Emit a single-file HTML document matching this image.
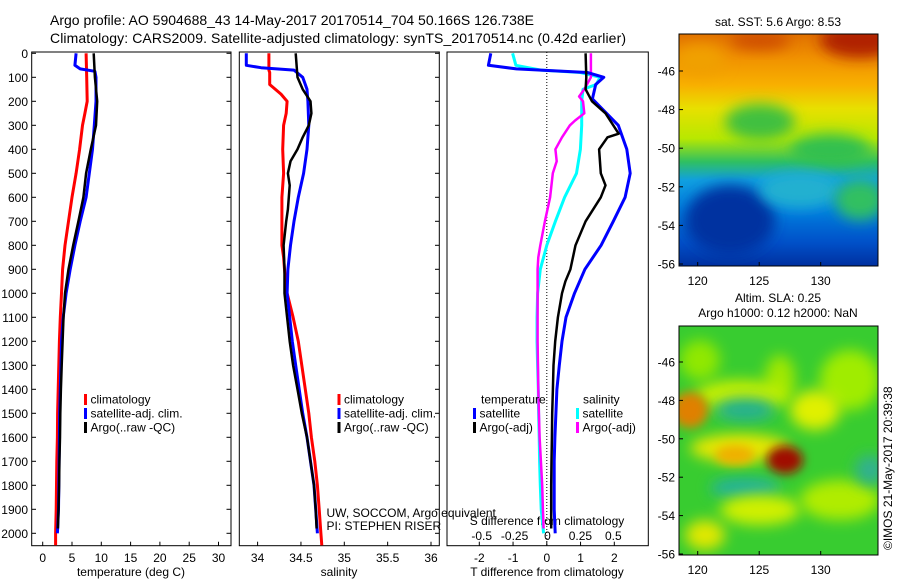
<!DOCTYPE html>
<html><head><meta charset="utf-8">
<style>
html,body{margin:0;padding:0;background:#fff;}
svg{display:block;font-family:"Liberation Sans",sans-serif;}
</style></head>
<body>
<svg id="chart" width="900" height="580" viewBox="0 0 900 580" xmlns="http://www.w3.org/2000/svg">
<defs>
<clipPath id="c1"><rect x="32" y="52" width="199" height="494"/></clipPath>
<clipPath id="c2"><rect x="239" y="52" width="200" height="494"/></clipPath>
<clipPath id="c3"><rect x="447" y="52" width="201" height="494"/></clipPath>
<clipPath id="cm1"><rect x="679" y="34" width="199" height="232"/></clipPath>
<clipPath id="cm2"><rect x="679" y="326" width="199" height="229"/></clipPath>
<filter id="bl" x="-50%" y="-50%" width="200%" height="200%"><feGaussianBlur stdDeviation="7"/></filter>
<filter id="bl2" x="-50%" y="-50%" width="200%" height="200%"><feGaussianBlur stdDeviation="5"/></filter>
<linearGradient id="sstg" x1="0" y1="0" x2="0" y2="1">
<stop offset="0" stop-color="#e07000"/><stop offset="0.1" stop-color="#f09000"/>
<stop offset="0.22" stop-color="#f8b000"/><stop offset="0.32" stop-color="#e8e000"/>
<stop offset="0.45" stop-color="#b8e800"/><stop offset="0.55" stop-color="#30c060"/>
<stop offset="0.63" stop-color="#10a0e0"/><stop offset="0.75" stop-color="#0080e0"/>
<stop offset="0.9" stop-color="#0050c8"/><stop offset="1" stop-color="#0030a0"/>
</linearGradient>
</defs>
<g id="titles">
<text x="50" y="25" font-size="14" textLength="484">Argo profile: AO 5904688_43 14-May-2017 20170514_704 50.166S 126.738E</text>
<text x="50" y="43" font-size="14" textLength="576">Climatology: CARS2009. Satellite-adjusted climatology: synTS_20170514.nc (0.42d earlier)</text>
</g>
<g id="maps">
<text x="778" y="26" font-size="12" text-anchor="middle">sat. SST: 5.6 Argo: 8.53</text>
<g clip-path="url(#cm1)">
<rect x="679" y="34" width="199" height="232" fill="url(#sstg)"/>
<ellipse cx="860" cy="40" rx="40" ry="18" fill="#b02000" filter="url(#bl)"/>
<ellipse cx="760" cy="40" rx="30" ry="10" fill="#d05000" filter="url(#bl)"/>
<ellipse cx="760" cy="122" rx="35" ry="18" fill="#40c040" filter="url(#bl)"/>
<ellipse cx="830" cy="150" rx="40" ry="16" fill="#30c050" filter="url(#bl)"/>
<ellipse cx="730" cy="220" rx="45" ry="35" fill="#0030a0" filter="url(#bl)"/>
<ellipse cx="800" cy="190" rx="40" ry="18" fill="#20b0d0" filter="url(#bl)"/>
<ellipse cx="860" cy="200" rx="25" ry="20" fill="#30c060" filter="url(#bl)"/>
<ellipse cx="700" cy="60" rx="25" ry="15" fill="#f0a000" filter="url(#bl)"/>
</g>
<rect x="679" y="34" width="199" height="232" fill="none" stroke="#000" stroke-width="1"/>
<g id="sstaxis" font-size="12"></g>
<text x="778" y="302" font-size="12" text-anchor="middle">Altim. SLA: 0.25</text>
<text x="778" y="317" font-size="12" text-anchor="middle">Argo h1000: 0.12 h2000: NaN</text>
<g clip-path="url(#cm2)">
<rect x="679" y="326" width="199" height="229" fill="#38cc30"/>
<ellipse cx="700" cy="360" rx="20" ry="20" fill="#90e800" filter="url(#bl)"/>
<ellipse cx="850" cy="380" rx="30" ry="30" fill="#a0ec00" filter="url(#bl)"/>
<ellipse cx="780" cy="380" rx="15" ry="25" fill="#a0e800" filter="url(#bl)"/>
<ellipse cx="740" cy="395" rx="45" ry="15" fill="#c8f000" filter="url(#bl)"/>
<ellipse cx="815" cy="410" rx="25" ry="20" fill="#e0f000" filter="url(#bl)"/>
<ellipse cx="745" cy="410" rx="30" ry="12" fill="#20b090" filter="url(#bl)"/>
<ellipse cx="740" cy="448" rx="50" ry="14" fill="#e8e800" filter="url(#bl)"/>
<ellipse cx="690" cy="410" rx="18" ry="18" fill="#e08000" filter="url(#bl2)"/>
<ellipse cx="735" cy="455" rx="20" ry="10" fill="#f0b000" filter="url(#bl2)"/>
<ellipse cx="785" cy="460" rx="18" ry="14" fill="#a01000" filter="url(#bl2)"/>
<ellipse cx="745" cy="488" rx="35" ry="10" fill="#20b0a0" filter="url(#bl)"/>
<ellipse cx="760" cy="510" rx="40" ry="15" fill="#d0f000" filter="url(#bl)"/>
<ellipse cx="840" cy="500" rx="40" ry="20" fill="#b0ec00" filter="url(#bl)"/>
<ellipse cx="705" cy="535" rx="20" ry="15" fill="#e0e800" filter="url(#bl)"/>
<ellipse cx="870" cy="470" rx="15" ry="15" fill="#30b090" filter="url(#bl)"/>
</g>
<rect x="679" y="326" width="199" height="229" fill="none" stroke="#000" stroke-width="1"/>
<g id="slaaxis" font-size="12"></g>
<text transform="translate(892,550) rotate(-90)" font-size="12">©IMOS 21-May-2017 20:39:38</text>
</g>
<g id="plots"></g>
</svg>
<script>
// ---- data ----
const depthTicks = [0,100,200,300,400,500,600,700,800,900,1000,1100,1200,1300,1400,1500,1600,1700,1800,1900,2000];
const tempTicks = [0,5,10,15,20,25,30];
const salTicks = [34,34.5,35,35.5,36];
const salTickLabels = ["34","34.5","35","35.5","36"];
const tdiffTicks = [-2,-1,0,1,2];
const sdiffTicks = [-0.5,-0.25,0,0.25,0.5];
const sdiffTickLabels = ["-0.5","-0.25","0","0.25","0.5"];
const latTicks = [-46,-48,-50,-52,-54,-56];
const lonTicks = [120,125,130];

const climDepth = [0,100,200,250,300,400,500,600,700,800,900,1000,1100,1200,1300,1400,1500,1600,1700,1800,1900,2000,2050];
const climTemp = [7.4,7.5,7.6,7.2,6.8,6.3,5.7,5.0,4.4,3.8,3.4,3.2,3.0,2.85,2.75,2.65,2.55,2.5,2.4,2.35,2.3,2.2,2.2];
const satDepth = [0,50,65,75,100,200,300,400,500,600,700,800,900,1000,1100,1200,1300,1400,1500,1600,1700,1800,1900,2000];
const satTemp = [5.7,5.5,6.4,8.9,9.1,9.1,8.8,8.5,7.95,7.4,6.4,5.5,4.7,4.0,3.5,3.2,3.1,3.0,2.9,2.85,2.8,2.75,2.7,2.5];
const argoDepth = [0,100,200,300,400,500,600,700,800,900,1000,1100,1200,1300,1400,1500,1600,1700,1800,1900,1980];
const argoTemp = [8.7,8.9,9.3,9.1,8.2,7.4,6.95,6.1,5.2,4.4,3.8,3.55,3.4,3.25,3.1,3.0,2.95,2.85,2.8,2.7,2.6];

const climSalDepth = [0,70,80,130,170,200,250,300,400,500,600,700,800,850,900,1000,1100,1200,1300,1400,1500,1600,1700,1800,1900,2000,2050];
const climSal = [34.13,34.13,34.14,34.14,34.27,34.34,34.33,34.30,34.29,34.30,34.28,34.28,34.28,34.30,34.31,34.34,34.41,34.47,34.51,34.55,34.59,34.62,34.66,34.69,34.71,34.73,34.74];
const satSalDepth = [0,50,60,70,100,150,200,300,400,500,600,700,800,900,1000,1100,1200,1300,1400,1500,1600,1700,1800,1900,2000];
const satSal = [33.87,33.87,34.04,34.42,34.52,34.57,34.58,34.59,34.57,34.53,34.47,34.42,34.38,34.35,34.34,34.37,34.40,34.44,34.48,34.52,34.57,34.61,34.65,34.67,34.69];
const argoSalDepth = [0,100,150,200,250,300,350,400,450,500,550,600,650,700,800,900,1000,1100,1200,1300,1400,1500,1600,1700,1800,1900,1980];
const argoSal = [34.44,34.46,34.52,34.61,34.62,34.59,34.52,34.46,34.38,34.35,34.37,34.36,34.35,34.33,34.30,34.31,34.31,34.34,34.37,34.41,34.46,34.51,34.57,34.61,34.65,34.67,34.68];

const dSatTDepth = [0,50,65,80,100,130,190,300,400,500,600,700,800,900,1000,1100,1200,1300,1400,1500,1600,1700,1800,1900,2000];
const dSatT = [-1.66,-1.73,-0.9,1.2,1.69,1.45,1.35,2.12,2.37,2.47,2.32,1.97,1.61,1.13,0.82,0.57,0.45,0.37,0.30,0.27,0.24,0.22,0.22,0.22,0.25];
const dArgoTDepth = [0,100,150,200,250,335,350,400,500,550,600,700,800,900,950,1000,1100,1200,1300,1400,1500,1600,1700,1800,1900,1980];
const dArgoT = [1.15,1.17,1.15,1.34,1.74,2.13,1.80,1.55,1.60,1.74,1.60,1.15,0.85,0.70,0.55,0.45,0.33,0.25,0.2,0.18,0.16,0.15,0.14,0.13,0.13,0.13];
const dSatSDepth = [0,50,70,80,100,130,150,200,300,400,500,600,700,800,900,1000,1100,1200,1300,1400,1500,1600,1700,1800,1900,2000];
const dSatS = [-0.265,-0.24,-0.05,0.25,0.40,0.37,0.27,0.26,0.26,0.25,0.22,0.13,0.06,-0.005,-0.055,-0.075,-0.08,-0.08,-0.075,-0.07,-0.068,-0.063,-0.06,-0.055,-0.048,-0.03];
const dArgoSDepth = [0,100,150,180,200,250,280,300,350,400,450,500,600,700,800,850,900,1000,1200,1400,1500,1600,1700,1800,1900,1980];
const dArgoS = [0.33,0.33,0.28,0.24,0.27,0.28,0.21,0.17,0.11,0.06,0.07,0.04,0.02,-0.02,-0.055,-0.07,-0.075,-0.075,-0.075,-0.07,-0.065,-0.06,-0.05,-0.04,-0.035,-0.03];

// ---- axes ----
const NS="http://www.w3.org/2000/svg";
const yD = d => 53.3 + d*0.24;
const xT = t => 42.7 + t*5.86;
const xS = s => 257.6 + (s-34)*86.7;
const xTD = t => 546.8 + t*33.75;
const xSD = s => 547.5 + s*131.6;
const xLon = l => 697.7 + (l-120)*12.3;
const yLat1 = l => 71 + (-46-l)*19.3;
const yLat2 = l => 362 + (-46-l)*19.2;
const TOP=52, BOT=545.7;
const plots = document.getElementById('plots');

function mk(tag, attrs, parent){
  const e=document.createElementNS(NS,tag);
  for(const k in attrs) e.setAttribute(k,attrs[k]);
  (parent||plots).appendChild(e);
  return e;
}
function txt(str, attrs, parent){ const e=mk('text',attrs,parent); e.textContent=str; return e; }

const panels=[[31.7,231],[239.3,439.3],[447,648.3]];
panels.forEach((p,i)=>{
  const r=mk('rect',{x:p[0],y:TOP,width:p[1]-p[0],height:BOT-TOP,fill:'none',stroke:'#000','stroke-width':1});
  
  
});
// depth ticks
depthTicks.forEach(d=>{
  const y=yD(d);
  const t=txt(String(d),{x:28,y:y+4.5,'font-size':12,'text-anchor':'end'});
  
  
  mk('line',{x1:31.7,x2:36,y1:y,y2:y,stroke:'#000'});
  mk('line',{x1:226.5,x2:231,y1:y,y2:y,stroke:'#000'});
  mk('line',{x1:435,x2:439.3,y1:y,y2:y,stroke:'#000'});
});
function xaxis(ticks,labels,fx,ty,tickTop){
  ticks.forEach((v,i)=>{
    const x=fx(v);
    if(tickTop!==null) mk('line',{x1:x,x2:x,y1:BOT,y2:BOT-4,stroke:'#000'});
    const t=txt(labels[i],{x:x,y:ty,'font-size':12,'text-anchor':'middle'});
    
    
  });
}
xaxis(tempTicks,tempTicks.map(String),xT,562,1);
xaxis(salTicks,salTickLabels,xS,562,1);
xaxis(tdiffTicks,tdiffTicks.map(String),xTD,562,1);
xaxis(sdiffTicks,sdiffTickLabels,xSD,540,null);

let t;
t=txt('temperature (deg C)',{x:131,y:576,'font-size':12,'text-anchor':'middle'});


t=txt('salinity',{x:339,y:576,'font-size':12,'text-anchor':'middle'});


t=txt('T difference from climatology',{x:547,y:576,'font-size':12,'text-anchor':'middle'});


t=txt('S difference from climatology',{x:547,y:525,'font-size':12,'text-anchor':'middle'});


t=txt('UW, SOCCOM, Argo equivalent',{x:326.5,y:517,'font-size':12});


t=txt('PI: STEPHEN RISER',{x:326.5,y:530,'font-size':12});



const zl=mk('line',{x1:xTD(0),x2:xTD(0),y1:TOP,y2:BOT,stroke:'#000','stroke-dasharray':'1,2'});



function line(xs,ds,fx,color,clip,name,w){
  const pts=xs.map((v,i)=>fx(v).toFixed(1)+','+yD(ds[i]).toFixed(1)).join(' ');
  const e=mk('polyline',{points:pts,fill:'none',stroke:color,'stroke-width':w||3,'stroke-linejoin':'round','clip-path':'url(#'+clip+')'});
  
  
}
line(climTemp,climDepth,xT,'#ff0000','c1','climatology-temperature-line');
line(satTemp,satDepth,xT,'#0000ff','c1','satellite-temperature-line');
line(argoTemp,argoDepth,xT,'#000000','c1','argo-temperature-line',2.5);
line(climSal,climSalDepth,xS,'#ff0000','c2','climatology-salinity-line');
line(satSal,satSalDepth,xS,'#0000ff','c2','satellite-salinity-line');
line(argoSal,argoSalDepth,xS,'#000000','c2','argo-salinity-line',2.5);
line(dSatS,dSatSDepth,xSD,'#00ffff','c3','satellite-s-difference-line');
line(dArgoS,dArgoSDepth,xSD,'#ff00ff','c3','argo-s-difference-line',2.5);
line(dSatT,dSatTDepth,xTD,'#0000ff','c3','satellite-t-difference-line');
line(dArgoT,dArgoTDepth,xTD,'#000000','c3','argo-t-difference-line',2.5);

function legend(x,y,color,label){
  const m=mk('rect',{x:x,y:y-5,width:3,height:11,fill:color});
  
  
  const l=txt(label,{x:x+6.5,y:y+4.5,'font-size':12});
  
  
}
legend(84,399,'#ff0000','climatology');
legend(84,413,'#0000ff','satellite-adj. clim.');
legend(84,427,'#000000','Argo(..raw -QC)');
legend(337.5,399,'#ff0000','climatology');
legend(337.5,413,'#0000ff','satellite-adj. clim.');
legend(337.5,427,'#000000','Argo(..raw -QC)');
t=txt('temperature',{x:481,y:403.5,'font-size':12});


t=txt('salinity',{x:583,y:403.5,'font-size':12});


legend(473,413,'#0000ff','satellite');
legend(473,427,'#000000','Argo(-adj)');
legend(576,413,'#00ffff','satellite');
legend(576,427,'#ff00ff','Argo(-adj)');

// map axes
function mapAxis(gid,fy,left,bottom,ly){
  const g=document.getElementById(gid);
  latTicks.forEach(l=>{
    const y=fy(l);
    mk('line',{x1:left,x2:left+4,y1:y,y2:y,stroke:'#000'},g);
    const e=txt(String(l),{x:left-4,y:y+4.5,'text-anchor':'end'},g);
    
    
  });
  lonTicks.forEach(l=>{
    const x=xLon(l);
    mk('line',{x1:x,x2:x,y1:bottom,y2:bottom-4,stroke:'#000'},g);
    const e=txt(String(l),{x:x,y:ly,'text-anchor':'middle'},g);
    
    
  });
}
mapAxis('sstaxis',yLat1,679,266,285);
mapAxis('slaaxis',yLat2,679,555,574);
</script>
</body></html>
